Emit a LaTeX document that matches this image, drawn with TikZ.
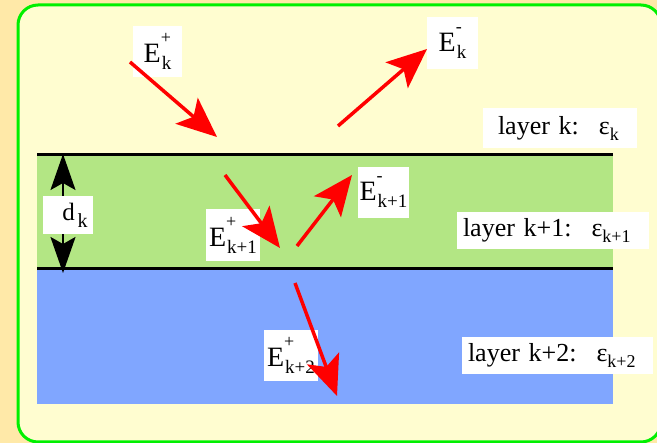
\documentclass[tikz,border=0pt]{standalone}
\usepackage{fontspec}
\setmainfont{Liberation Serif}
\newfontfamily\capfont{Liberation Serif}
\usetikzlibrary{arrows.meta}

\definecolor{pagebg}{HTML}{FFE9A8}
\definecolor{panel}{HTML}{FFFDD0}
\definecolor{framegreen}{HTML}{00F000}
\definecolor{layerA}{HTML}{B3E684}
\definecolor{layerB}{HTML}{80A6FF}
\definecolor{ray}{HTML}{FF0000}

% field amplitude E with stacked super- and subscript
\newcommand{\fld}[2]{E\rlap{\raisebox{19pt}{\fontsize{18}{18}\selectfont#1}}\hspace{1pt}\raisebox{-7pt}{\fontsize{19}{19}\selectfont#2}}
% layer caption with permittivity
\newcommand{\lay}[2]{layer #1:\hspace{20pt}ε\raisebox{-6pt}{\fontsize{18}{18}\selectfont#2}}

\tikzset{
  lbl/.style={fill=white, inner sep=0pt, font=\capfont\fontsize{28}{28}\selectfont},
  laylbl/.style={fill=white, inner ysep=0pt, align=left, font=\capfont\fontsize{26}{26}\selectfont},
  wave/.style={draw=ray, line width=3.5pt,
    -{Stealth[length=40pt, width=34pt, inset=9pt]}},
  thickness/.style={draw=black, line width=2pt,
    {Stealth[length=36pt, width=25pt, inset=7pt]}-{Stealth[length=36pt, width=25pt, inset=7pt]}},
  interface/.style={draw=black, line width=3pt}
}

\begin{document}
\begin{tikzpicture}[x=1pt, y=-1pt]
\useasboundingbox (0,0) rectangle (657,443);
\fill[pagebg] (0,0) rectangle (657,443);
\draw[framegreen, line width=3pt, fill=panel, rounded corners=20pt] (18,5) rectangle (661,442);

% layers
\fill[layerA] (37,155) rectangle (613,269);
\fill[layerB] (37,269) rectangle (613,404);
\draw[interface] (37,155) -- (613,155);
\draw[interface] (37,269) -- (613,269);

% thickness of layer k+1
\coordinate (dtop) at (63,154);
\coordinate (dbot) at (63,273);
\draw[thickness] (dtop) -- (dbot);

% captions
\node[lbl, minimum width=50pt, minimum height=38pt, font=\capfont\fontsize{25}{25}\selectfont] (dk) at (68,215)
  {\hspace*{14pt}d\hspace{3pt}\raisebox{-7pt}{\fontsize{20}{20}\selectfont k}};
\node[laylbl, text width=124pt, inner xsep=15pt, minimum height=40pt] (Lk) at (560,128) {\lay{k}{k}};
\node[laylbl, text width=180pt, inner xsep=6pt, minimum height=37pt] (Lk1) at (553,230.5) {\lay{k+1}{k+1}};
\node[laylbl, text width=179pt, inner xsep=6pt, minimum height=37pt] (Lk2) at (557.5,355.5) {\lay{k+2}{k+2}};

\node[lbl, minimum width=49pt, minimum height=51pt] (Ekp) at (157.5,51.5) {\fld{+}{k}};
\node[lbl, minimum width=51pt, minimum height=52pt] (Ekm) at (452.5,43) {\fld{-}{k}};
\node[lbl, minimum width=54pt, minimum height=52pt] (Ek1p) at (233,235) {\fld{+}{k+1}};
\node[lbl, minimum width=51pt, minimum height=51pt] (Ek1m) at (383.5,192.5) {\fld{-}{k+1}};
\node[lbl, minimum width=54pt, minimum height=51pt] (Ek2p) at (291,355.5) {\fld{+}{k+2}};

% waves
\coordinate (a1) at (130,62);  \coordinate (b1) at (217,137);
\coordinate (a2) at (338,126); \coordinate (b2) at (427,49);
\coordinate (a3) at (225,175); \coordinate (b3) at (280,248);
\coordinate (a4) at (297,246); \coordinate (b4) at (352,175);
\coordinate (a5) at (295,283); \coordinate (b5) at (337,396);
\draw[wave] (a1) -- (b1);
\draw[wave] (a2) -- (b2);
\draw[wave] (a3) -- (b3);
\draw[wave] (a4) -- (b4);
\draw[wave] (a5) -- (b5);
\end{tikzpicture}
\end{document}
